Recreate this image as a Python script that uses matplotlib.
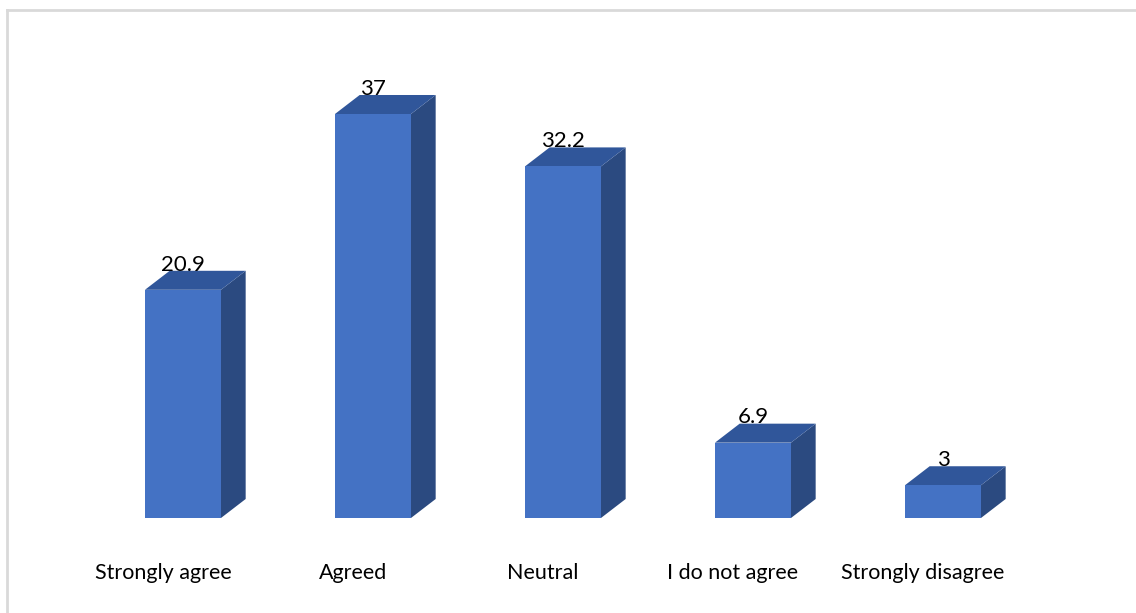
import matplotlib
matplotlib.use('Agg')
import matplotlib.pyplot as plt
from matplotlib.patches import Polygon
from matplotlib.lines import Line2D

categories = ['Strongly agree', 'Agreed', 'Neutral', 'I do not agree', 'Strongly disagree']
values = [20.9, 37, 32.2, 6.9, 3]
value_labels = ['20.9', '37', '32.2', '6.9', '3']

front_color = '#4472c4'
top_color = '#30569a'
side_color = '#2b4a80'

half_w = 0.2      # half width of the front face (category units)
depth_x = 0.13    # 3d depth offset in x
depth_y = 1.74    # 3d depth offset in y (value units)

fig = plt.figure(figsize=(11.36, 6.13), dpi=100)
fig.patch.set_facecolor('white')

# chart frame: only top and left edges visible in the crop
fig.add_artist(Line2D([7 / 1136, 1], [1 - 10 / 613, 1 - 10 / 613], color='#d9d9d9', lw=2))
fig.add_artist(Line2D([7 / 1136, 7 / 1136], [0, 1 - 10 / 613], color='#d9d9d9', lw=2))

ax = fig.add_axes([0, 0, 1, 1])
ax.set_xlim(-0.963, 5.016)
ax.set_ylim(-8.70, 47.44)
ax.axis('off')

for i, v in enumerate(values):
    x0, x1 = i - half_w, i + half_w
    front = Polygon([(x0, 0), (x1, 0), (x1, v), (x0, v)], closed=True,
                    facecolor=front_color, edgecolor='none')
    top = Polygon([(x0, v), (x1, v), (x1 + depth_x, v + depth_y), (x0 + depth_x, v + depth_y)],
                  closed=True, facecolor=top_color, edgecolor='none')
    side = Polygon([(x1, 0), (x1 + depth_x, depth_y), (x1 + depth_x, v + depth_y), (x1, v)],
                   closed=True, facecolor=side_color, edgecolor='none')
    ax.add_patch(side)
    ax.add_patch(top)
    ax.add_patch(front)
    ax.text(i, v + depth_y - 0.35, value_labels[i], ha='center', va='bottom',
            fontsize=16, family='Lato', color='black')
    ax.text(i - 0.105, -5.04, categories[i], ha='center', va='center',
            fontsize=15.5, family='Lato', color='black')

fig.savefig('out.png', dpi=100)
